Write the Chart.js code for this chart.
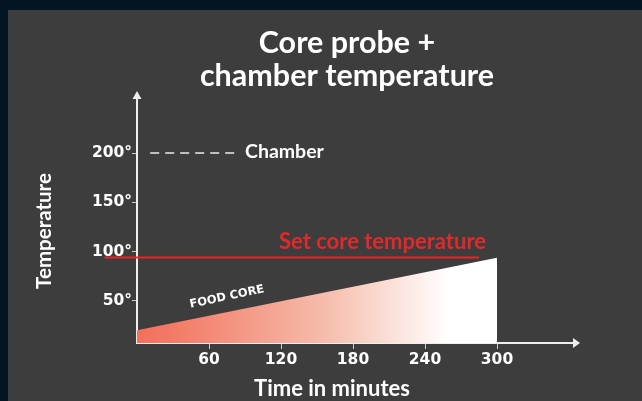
<!DOCTYPE html>
<html>
<head>
<meta charset="utf-8">
<script src="https://cdn.jsdelivr.net/npm/chart.js@4.4.1/dist/chart.umd.min.js"></script>
<style>
  html, body { margin: 0; padding: 0; background: #031522; }
  #wrap { width: 642px; height: 401px; }
</style>
</head>
<body>
<div id="wrap"><canvas id="chart" width="642" height="401"></canvas></div>
<script>
// Core probe + chamber temperature

const xTicks = [60, 120, 180, 240, 300];
const yTicks = [50, 100, 150, 200];

// food core temperature rising over time
const coreTime = [0, 300];
const coreTemp = [20, 93.5];

// set core temperature (target)
const setTime = [-27, 285];
const setTemp = [94, 94];

// chamber temperature
const chamberTime = [11, 82];
const chamberTemp = [200, 200];

const pts = (xs, ys) => xs.map((x, i) => ({ x, y: ys[i] }));

const AXIS = '#eeeeee';
const RED = '#e3272a';

function coreGradient(context) {
  const { ctx, chartArea, scales } = context.chart;
  if (!chartArea) return '#f37a66';
  const x0 = scales.x.getPixelForValue(0);
  const x1 = scales.x.getPixelForValue(260);
  const g = ctx.createLinearGradient(x0, 0, x1, 0);
  g.addColorStop(0, '#f2705c');
  g.addColorStop(0.12, '#f37b67');
  g.addColorStop(0.6, '#f6bcab');
  g.addColorStop(1, '#ffffff');
  return g;
}

const decor = {
  id: 'decor',
  beforeDraw(chart) {
    const c = chart.ctx;
    c.save();
    c.fillStyle = '#031522';
    c.fillRect(0, 0, chart.width, chart.height);
    c.fillStyle = '#3d3d3d';
    c.fillRect(8, 10, chart.width - 8, chart.height - 10);
    c.restore();
  },
  afterDraw(chart) {
    const c = chart.ctx;
    const { x, y } = chart.scales;
    const ax = x.getPixelForValue(0);
    const ay = y.bottom;
    c.save();
    // arrow heads
    c.fillStyle = AXIS;
    c.beginPath();
    c.moveTo(ax, y.top - 4);
    c.lineTo(ax - 4.5, y.top + 4);
    c.lineTo(ax + 4.5, y.top + 4);
    c.closePath();
    c.fill();
    c.beginPath();
    c.moveTo(x.right + 2, ay);
    c.lineTo(x.right - 5, ay - 5);
    c.lineTo(x.right - 5, ay + 5);
    c.closePath();
    c.fill();

    // titles
    c.fillStyle = '#ffffff';
    c.textAlign = 'center';
    c.textBaseline = 'alphabetic';
    c.font = 'bold 30.5px Lato';
    c.fillText('Core probe +', 347, 53);
    c.fillText('chamber temperature', 347, 86);

    c.textBaseline = 'middle';
    c.font = 'bold 22px Lato';
    c.fillText('Time in minutes', 332, 389);

    c.save();
    c.translate(44, 231);
    c.rotate(-Math.PI / 2);
    c.font = 'bold 20.5px Lato';
    c.fillText('Temperature', 0, 0);
    c.restore();

    // annotations
    c.textAlign = 'left';
    c.font = 'bold 19.5px Lato';
    c.fillText('Chamber', x.getPixelForValue(90), y.getPixelForValue(200) - 1);

    c.fillStyle = RED;
    c.font = 'bold 22px Lato';
    c.fillText('Set core temperature', 279, y.getPixelForValue(94) - 15);

    c.save();
    c.fillStyle = '#ffffff';
    c.translate(227, 297);
    c.rotate(-12 * Math.PI / 180);
    c.textAlign = 'center';
    c.font = 'bold 11.5px "DejaVu Sans"';
    c.fillText('FOOD CORE', 0, 0);
    c.restore();

    c.restore();
  }
};

const tickFont = { family: 'DejaVu Sans', weight: 'bold', size: 15.5 };

new Chart(document.getElementById('chart'), {
  type: 'line',
  data: {
    datasets: [
      {
        label: 'Food core',
        data: pts(coreTime, coreTemp),
        borderWidth: 0,
        pointRadius: 0,
        fill: 'start',
        backgroundColor: coreGradient,
      },
      {
        label: 'Set core temperature',
        data: pts(setTime, setTemp),
        borderColor: RED,
        borderWidth: 2,
        pointRadius: 0,
        fill: false,
        clip: false,
      },
      {
        label: 'Chamber',
        data: pts(chamberTime, chamberTemp),
        borderColor: '#ececec',
        borderWidth: 1.5,
        borderDash: [9, 6],
        pointRadius: 0,
        fill: false,
      },
    ]
  },
  options: {
    responsive: false,
    animation: false,
    layout: { padding: { left: 0, top: 95, right: 64, bottom: 0 } },
    plugins: {
      legend: { display: false },
      title: { display: false },
      tooltip: { enabled: false },
    },
    scales: {
      x: {
        type: 'linear',
        min: 0,
        max: 367.5,
        z: 1,
        afterFit: s => { s.height = 58; },
        afterBuildTicks: s => { s.ticks = xTicks.map(v => ({ value: v })); },
        border: { display: true, color: AXIS, width: 2 },
        grid: { drawOnChartArea: false, drawTicks: true, tickLength: 6, color: '#cccccc' },
        ticks: { color: '#ffffff', font: tickFont, padding: 2, maxRotation: 0 },
      },
      y: {
        type: 'linear',
        min: 7,
        max: 259,
        z: 1,
        afterFit: s => { s.width = 137; },
        afterBuildTicks: s => { s.ticks = yTicks.map(v => ({ value: v })); },
        border: { display: true, color: AXIS, width: 2 },
        grid: { drawOnChartArea: false, drawTicks: true, tickLength: 5, color: '#cccccc' },
        ticks: { color: '#ffffff', font: tickFont, padding: 0, callback: v => v + '°' },
      },
    },
  },
  plugins: [decor],
});
</script>
</body>
</html>
